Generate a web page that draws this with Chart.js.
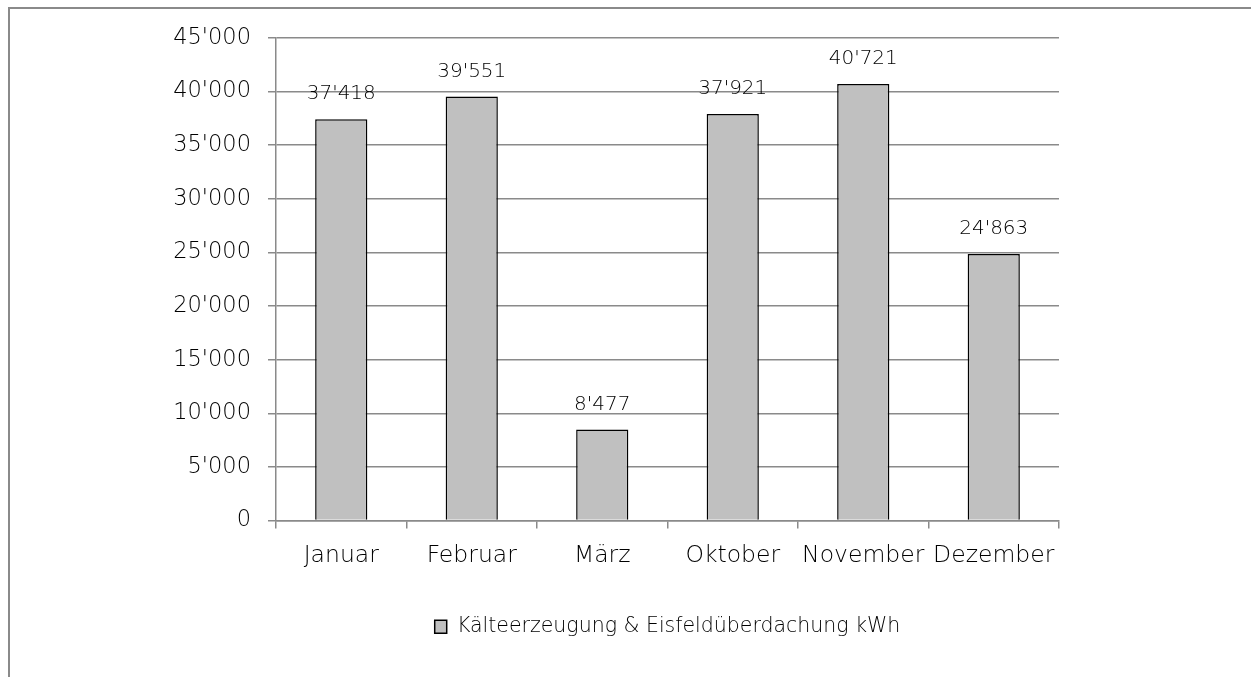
<!DOCTYPE html>
<html>
<head>
<meta charset="utf-8">
<script src="https://cdn.jsdelivr.net/npm/chart.js@4/dist/chart.umd.min.js"></script>
<style>
  html, body { margin: 0; padding: 0; background: #fff; }
  #wrap { position: relative; width: 1251px; height: 677px; overflow: hidden; }
  #frame { position: absolute; left: 8px; top: 7px; width: 1300px; height: 720px; border: 2px solid #8a8a8a; box-sizing: border-box; }
  canvas { position: absolute; left: 0; top: 0; }
</style>
</head>
<body>
<div id="wrap">
  <div id="frame"></div>
  <canvas id="c" width="1251" height="677"></canvas>
</div>
<script>
const categories = ['Januar', 'Februar', 'März', 'Oktober', 'November', 'Dezember'];
const seriesName = 'Kälteerzeugung & Eisfeldüberdachung kWh';
const values = [37418, 39551, 8477, 37921, 40721, 24863];
const yTicks = [0, 5000, 10000, 15000, 20000, 25000, 30000, 35000, 40000, 45000];

const FONT = "'DejaVu Sans', sans-serif";
const WEIGHT = '200';
const TEXT = '#000';
function fmt(v) {
  return String(Math.round(v)).replace(/\B(?=(\d{3})+(?!\d))/g, "'");
}

const dataLabels = {
  id: 'dataLabels',
  afterDatasetsDraw(chart) {
    const ctx = chart.ctx;
    const meta = chart.getDatasetMeta(0);
    ctx.save();
    ctx.font = WEIGHT + ' 20px ' + FONT;
    ctx.fillStyle = TEXT;
    ctx.textAlign = 'center';
    ctx.textBaseline = 'middle';
    meta.data.forEach((bar, i) => {
      ctx.fillText(fmt(values[i]), bar.x, bar.y - 25);
    });
    ctx.restore();
  }
};

new Chart(document.getElementById('c'), {
  type: 'bar',
  data: {
    labels: categories,
    datasets: [{
      label: seriesName,
      data: values,
      backgroundColor: '#c0c0c0',
      borderColor: '#000',
      borderWidth: 1.5,
      categoryPercentage: 1,
      barPercentage: 0.4
    }]
  },
  options: {
    responsive: false,
    animation: false,
    layout: { padding: { left: 0, right: 192, top: 38, bottom: 30 } },
    plugins: {
      tooltip: { enabled: false },
      legend: {
        position: 'bottom',
        fullSize: false,
        labels: {
          font: { family: FONT, size: 20.5, weight: WEIGHT },
          color: TEXT,
          boxWidth: 12,
          boxHeight: 13,
          padding: 10
        }
      }
    },
    scales: {
      x: {
        afterFit(s) { s.height = 86; },
        grid: { offset: true, drawOnChartArea: false, drawTicks: true, tickLength: 8, color: '#8a8a8a', lineWidth: 1.5 },
        border: { display: true, color: '#8a8a8a', width: 1.5 },
        ticks: { font: { family: FONT, size: 23.5, weight: WEIGHT }, color: TEXT, padding: 13, maxRotation: 0, autoSkip: false }
      },
      y: {
        min: 0,
        max: 45000,
        afterFit(s) { s.width = 276; },
        afterBuildTicks(s) { s.ticks = yTicks.map(v => ({ value: v })); },
        grid: { color: '#8a8a8a', lineWidth: 1.5, tickLength: 8 },
        border: { display: true, color: '#8a8a8a', width: 1.5 },
        ticks: { font: { family: FONT, size: 22.5, weight: WEIGHT }, color: TEXT, padding: 17, callback: v => fmt(v) }
      }
    }
  },
  plugins: [dataLabels]
});
</script>
</body>
</html>
